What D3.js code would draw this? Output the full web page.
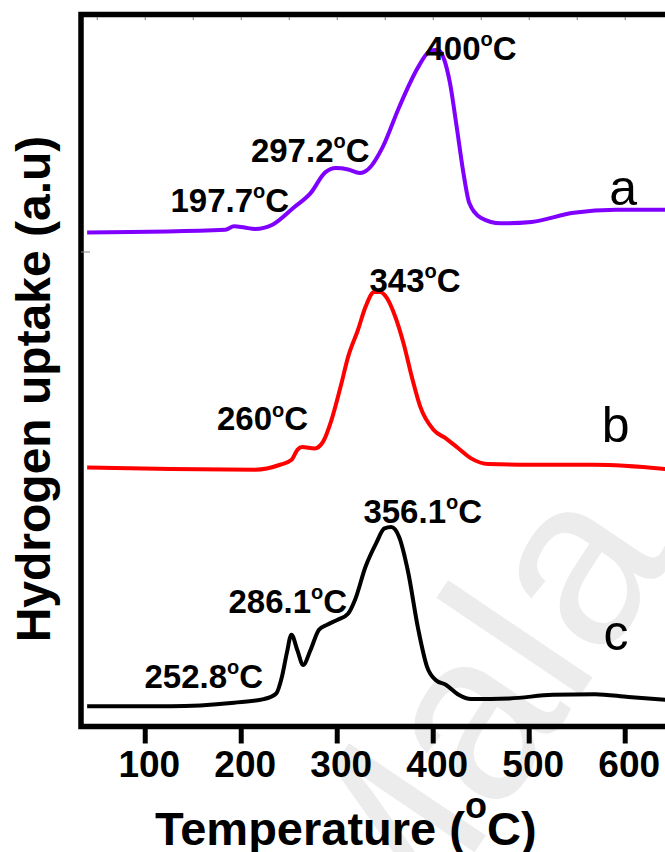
<!DOCTYPE html>
<html>
<head>
<meta charset="utf-8">
<script src="https://cdn.jsdelivr.net/npm/d3@7"></script>
<style>
  body { margin: 0; background: #fff; }
  svg text { font-family: "Liberation Sans", Arial, sans-serif; }
</style>
</head>
<body>
<svg id="chart" width="665" height="852"></svg>
<script>
// trace a (purple) - temperature in C and uptake (a.u., stacked)
var tempA = [40, 184, 193, 204, 215, 233, 255, 273, 288, 299, 312, 324, 334, 348, 365, 385, 396, 405, 412, 418, 425, 432, 438, 450, 471, 503, 547, 591, 643];
var upA = [69.7, 70.1, 70.6, 70.4, 70.2, 70.8, 73.2, 75.3, 78.2, 78.8, 78.6, 78.1, 78.8, 81.8, 87.4, 93.1, 95.2, 95.5, 94.1, 90.8, 84.6, 78.1, 73.9, 71.8, 71.0, 71.2, 72.5, 72.9, 72.9];

// trace b (red)
var tempB = [40, 127, 215, 241, 253, 259, 264, 277, 286, 294.5, 304, 312, 322, 330, 339, 345.5, 352, 361, 369.5, 379, 387, 401, 414, 427, 440, 458, 503, 569, 643];
var upB = [36.5, 36.3, 36.2, 36.9, 37.6, 39.0, 39.4, 39.2, 40.2, 43.2, 47.9, 52.2, 55.9, 59.2, 61.3, 61.3, 60.5, 57.8, 54.1, 48.9, 45.1, 41.8, 40.6, 39.2, 37.8, 37.0, 36.9, 36.9, 36.3];

// trace c (black)
var tempC = [40, 127, 193, 224, 237, 243, 248, 252.8, 259, 265, 272.6, 281.5, 290, 301, 312, 319, 330, 341, 349.7, 356.7, 365, 374, 385, 394, 403, 414, 427, 440, 480, 525, 569, 604, 643];
var upC = [2.8, 2.8, 3.3, 3.8, 4.6, 7.0, 10.3, 12.9, 10.7, 8.6, 10.7, 13.6, 14.3, 15.0, 15.9, 17.8, 22.5, 25.8, 27.9, 28.1, 26.7, 22.0, 13.6, 8.4, 6.5, 5.8, 4.4, 3.8, 3.9, 4.4, 4.5, 4.1, 3.7];

var xTicks = [100, 200, 300, 400, 500, 600];
var minorTicks = [50, 100, 150, 200, 250, 300, 350, 400, 450, 500, 550, 600, 650];

// peak annotations: number, anchor temperature, anchor uptake
var peakNames = ['400', '297.2', '197.7', '343', '260', '356.1', '286.1', '252.8'];
var peakT = [392.4, 210.6, 126.8, 334.1, 175.2, 327.8, 187.2, 99.7];
var peakV = [94.1, 79.7, 72.6, 61.3, 41.8, 28.7, 16.0, 5.4];

var traceNames = ['a', 'b', 'c'];
var traceT = [584, 576, 578];
var traceV = [73.6, 40.1, 10.7];

var traceColors = ['#7f00ff', '#ff0000', '#000000'];

var svg = d3.select('#chart');

var frame = {l: 81, t: 14.5, b: 726.5, r: 720};

var xScale = d3.scaleLinear().domain([33.6, 700]).range([81, 720.7]);
var yScale = d3.scaleLinear().domain([0, 100]).range([726, 18]);

// faint watermark, mostly off the bottom right
svg.append('text')
    .attr('transform', 'translate(385,985) rotate(-56)')
    .attr('font-size', 240)
    .attr('fill', '#ececec')
    .text('Mala');

// curves
var line = d3.line()
    .x(function(d) { return xScale(d[0]); })
    .y(function(d) { return yScale(d[1]); })
    .curve(d3.curveMonotoneX);

var traces = [d3.zip(tempA, upA), d3.zip(tempB, upB), d3.zip(tempC, upC)];

svg.selectAll('.trace')
    .data(traces)
    .enter()
    .append('path')
    .attr('class', 'trace')
    .attr('d', line)
    .attr('fill', 'none')
    .attr('stroke', function(d, i) { return traceColors[i]; })
    .attr('stroke-width', 4)
    .attr('stroke-linejoin', 'round');

// frame (left, top, bottom)
svg.append('path')
    .attr('d', 'M' + frame.r + ',' + frame.t + 'H' + frame.l + 'V' + frame.b + 'H' + frame.r)
    .attr('fill', 'none')
    .attr('stroke', '#000')
    .attr('stroke-width', 5.5);

// bottom axis
var xAxis = d3.axisBottom(xScale)
    .tickValues(xTicks)
    .tickSize(15)
    .tickPadding(7);

var axisG = svg.append('g')
    .attr('transform', 'translate(0,' + (frame.b + 2) + ')')
    .call(xAxis);
axisG.select('.domain').remove();
axisG.selectAll('.tick line').attr('stroke-width', 5);
axisG.selectAll('.tick text')
    .attr('font-family', '"Liberation Sans", Arial, sans-serif')
    .attr('font-size', 37)
    .attr('font-weight', 'bold')
    .attr('dx', 4)
    .attr('fill', '#000');

// tiny minor ticks along the top
var topAxis = d3.axisTop(xScale).tickValues(minorTicks).tickSize(-3).tickFormat('');
var topG = svg.append('g')
    .attr('transform', 'translate(0,' + (frame.t + 2.5) + ')')
    .call(topAxis);
topG.select('.domain').remove();
topG.selectAll('.tick line').attr('stroke', '#777').attr('stroke-width', 1);

// small mark on the left axis
svg.append('line')
    .attr('x1', frame.l).attr('x2', frame.l + 9)
    .attr('y1', 252).attr('y2', 252)
    .attr('stroke', '#888').attr('stroke-width', 1);

// peak labels
var peakG = svg.selectAll('.peak')
    .data(peakNames)
    .enter()
    .append('text')
    .attr('class', 'peak')
    .attr('x', function(d, i) { return xScale(peakT[i]); })
    .attr('y', function(d, i) { return yScale(peakV[i]); })
    .attr('font-size', 33)
    .attr('font-weight', 'bold')
    .attr('fill', '#000');
peakG.append('tspan').text(function(d) { return d; });
peakG.append('tspan').attr('font-size', 20).attr('dy', -13.5).text('o');
peakG.append('tspan').attr('dy', 13.5).text('C');

// trace letters
svg.selectAll('.tname')
    .data(traceNames)
    .enter()
    .append('text')
    .attr('class', 'tname')
    .attr('x', function(d, i) { return xScale(traceT[i]); })
    .attr('y', function(d, i) { return yScale(traceV[i]); })
    .attr('font-size', 50)
    .attr('fill', '#000')
    .text(function(d) { return d; });

// axis titles
var xt = svg.append('text')
    .attr('x', 155)
    .attr('y', 845)
    .attr('font-size', 47)
    .attr('font-weight', 'bold');
xt.append('tspan').text('Temperature (');
xt.append('tspan').attr('font-size', 36).attr('dy', -27).text('o');
xt.append('tspan').attr('dy', 27).text('C)');

svg.append('text')
    .attr('transform', 'translate(50,389) rotate(-90)')
    .attr('text-anchor', 'middle')
    .attr('font-size', 48)
    .attr('font-weight', 'bold')
    .text('Hydrogen uptake (a.u)');
</script>
</body>
</html>
